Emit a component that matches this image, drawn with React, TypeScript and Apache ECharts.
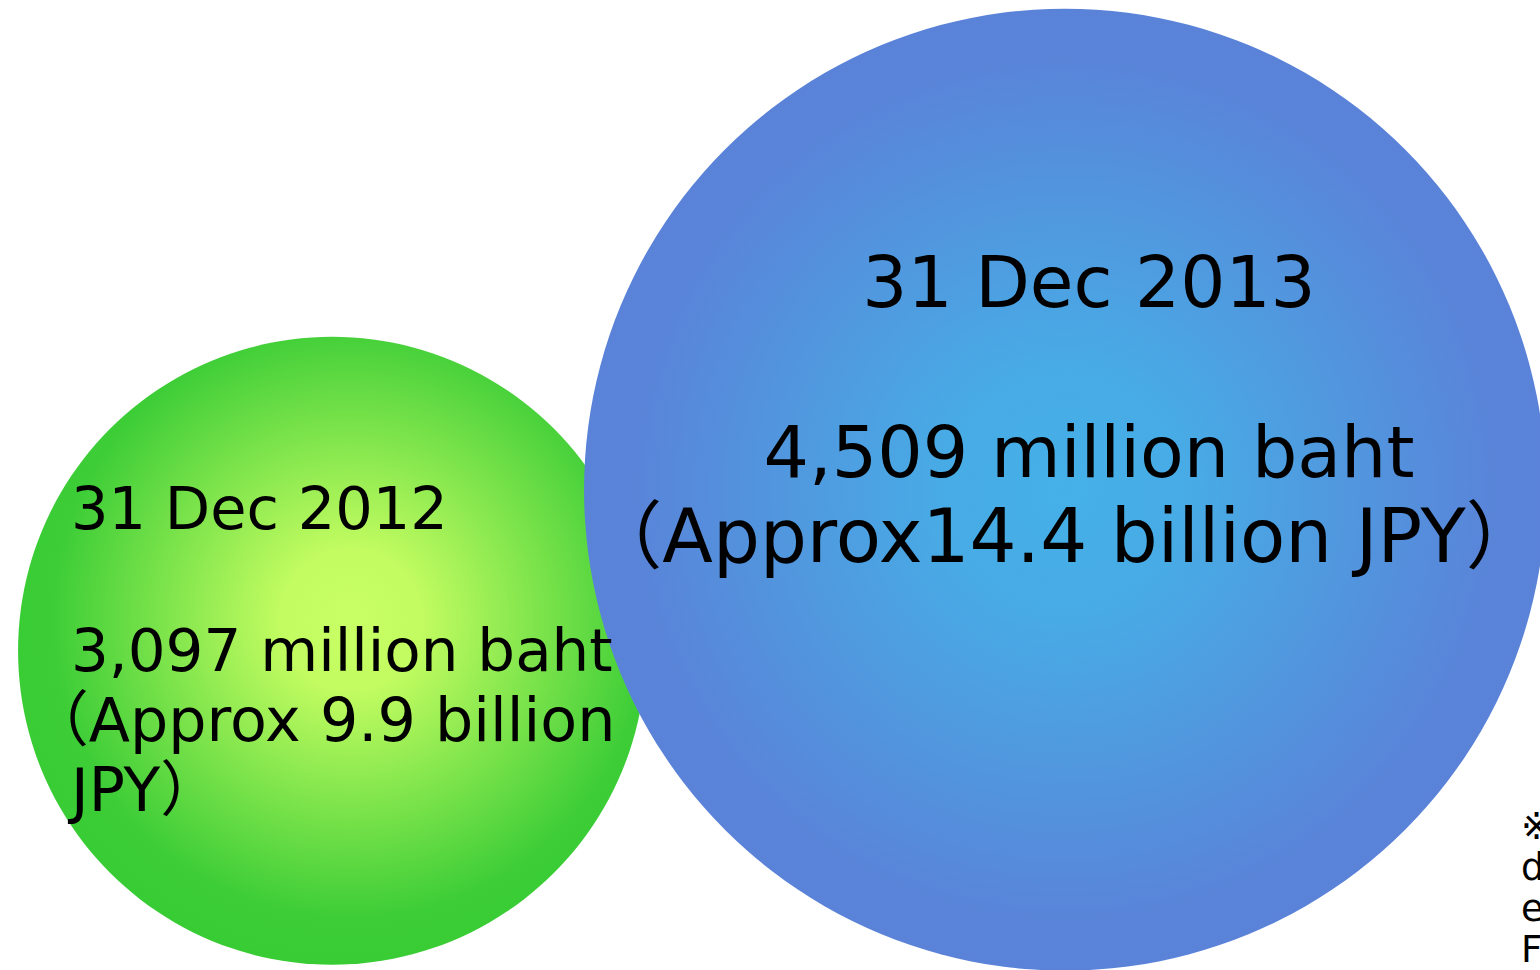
import React, { useEffect, useRef } from "react";
import * as echarts from "echarts";

// ---- data ----
const categories = ["31 Dec 2012", "31 Dec 2013"];
const bahtMillions = [3097, 4509];
const jpyBillions = [9.9, 14.4];
const noteLines = ["※", "d", "e", "F"];

const FONT = '"DejaVu Sans", "Noto Sans CJK JP", sans-serif';

const fmt = (v: number) => v.toLocaleString("en-US");

const gradients = [
  new echarts.graphic.RadialGradient(0.53, 0.45, 0.56, [
    { offset: 0, color: "#c8ff64" },
    { offset: 0.2, color: "#c2fc61" },
    { offset: 0.85, color: "#3dcd37" },
    { offset: 1, color: "#38cc34" },
  ]),
  new echarts.graphic.RadialGradient(0.5, 0.5, 0.52, [
    { offset: 0, color: "#45b0e8" },
    { offset: 0.25, color: "#48abe5" },
    { offset: 0.85, color: "#5985d9" },
    { offset: 1, color: "#5a82d8" },
  ]),
];

export default function App() {
  const ref = useRef<HTMLDivElement>(null);
  useEffect(() => {
    if (!ref.current) return;
    const chart = echarts.init(ref.current, null, { renderer: "svg" });

    const text = (
      str: string,
      x: number,
      baseline: number,
      size: number,
      align: string = "left"
    ) => ({
      type: "text",
      z: 100,
      style: {
        text: str,
        x,
        y: baseline + size * 0.14,
        font: `${size}px ${FONT}`,
        fill: "#000",
        textAlign: align,
        textVerticalAlign: "bottom",
      },
    });

    const graphics: any[] = [
      // 2012 circle labels
      text(categories[0], 71, 530, 59),
      text(`${fmt(bahtMillions[0])} million baht`, 71, 672, 59.5),
      text(`（Approx ${jpyBillions[0]} billion`, 28.5, 742, 60.3),
      text("JPY）", 71, 812, 60),
      // 2013 circle labels
      text(categories[1], 1089, 308, 71, "center"),
      text(`${fmt(bahtMillions[1])} million baht`, 1089, 478, 71.5, "center"),
      text(`（Approx${jpyBillions[1]} billion JPY）`, 1064, 563, 74, "center"),
      // note
      {
        type: "text",
        z: 100,
        style: {
          text: noteLines.join("\n"),
          x: 1521,
          y: 806,
          font: `37px ${FONT}`,
          lineHeight: 41,
          fill: "#000",
          textAlign: "left",
          textVerticalAlign: "top",
        },
      },
    ];

    chart.setOption({
      animation: false,
      grid: { left: 0, right: 0, top: 0, bottom: 0 },
      xAxis: { type: "value", min: -0.453, max: 1.648, show: false },
      yAxis: { type: "value", min: 300, max: 8800, show: false },
      series: [
        {
          type: "scatter",
          symbol: "circle",
          symbolSize: (v: number[]) => -104.6 + 0.23654 * v[1],
          data: bahtMillions.map((v, i) => ({
            name: categories[i],
            value: [i, v],
            itemStyle: { color: gradients[i], opacity: 1 },
          })),
          emphasis: { disabled: true },
          silent: true,
        },
      ],
      graphic: graphics,
    });
    return () => chart.dispose();
  }, []);
  return (
    <div
      ref={ref}
      style={{
        position: "absolute",
        left: 0,
        top: 0,
        width: 1540,
        height: 970,
        overflow: "hidden",
      }}
    />
  );
}
